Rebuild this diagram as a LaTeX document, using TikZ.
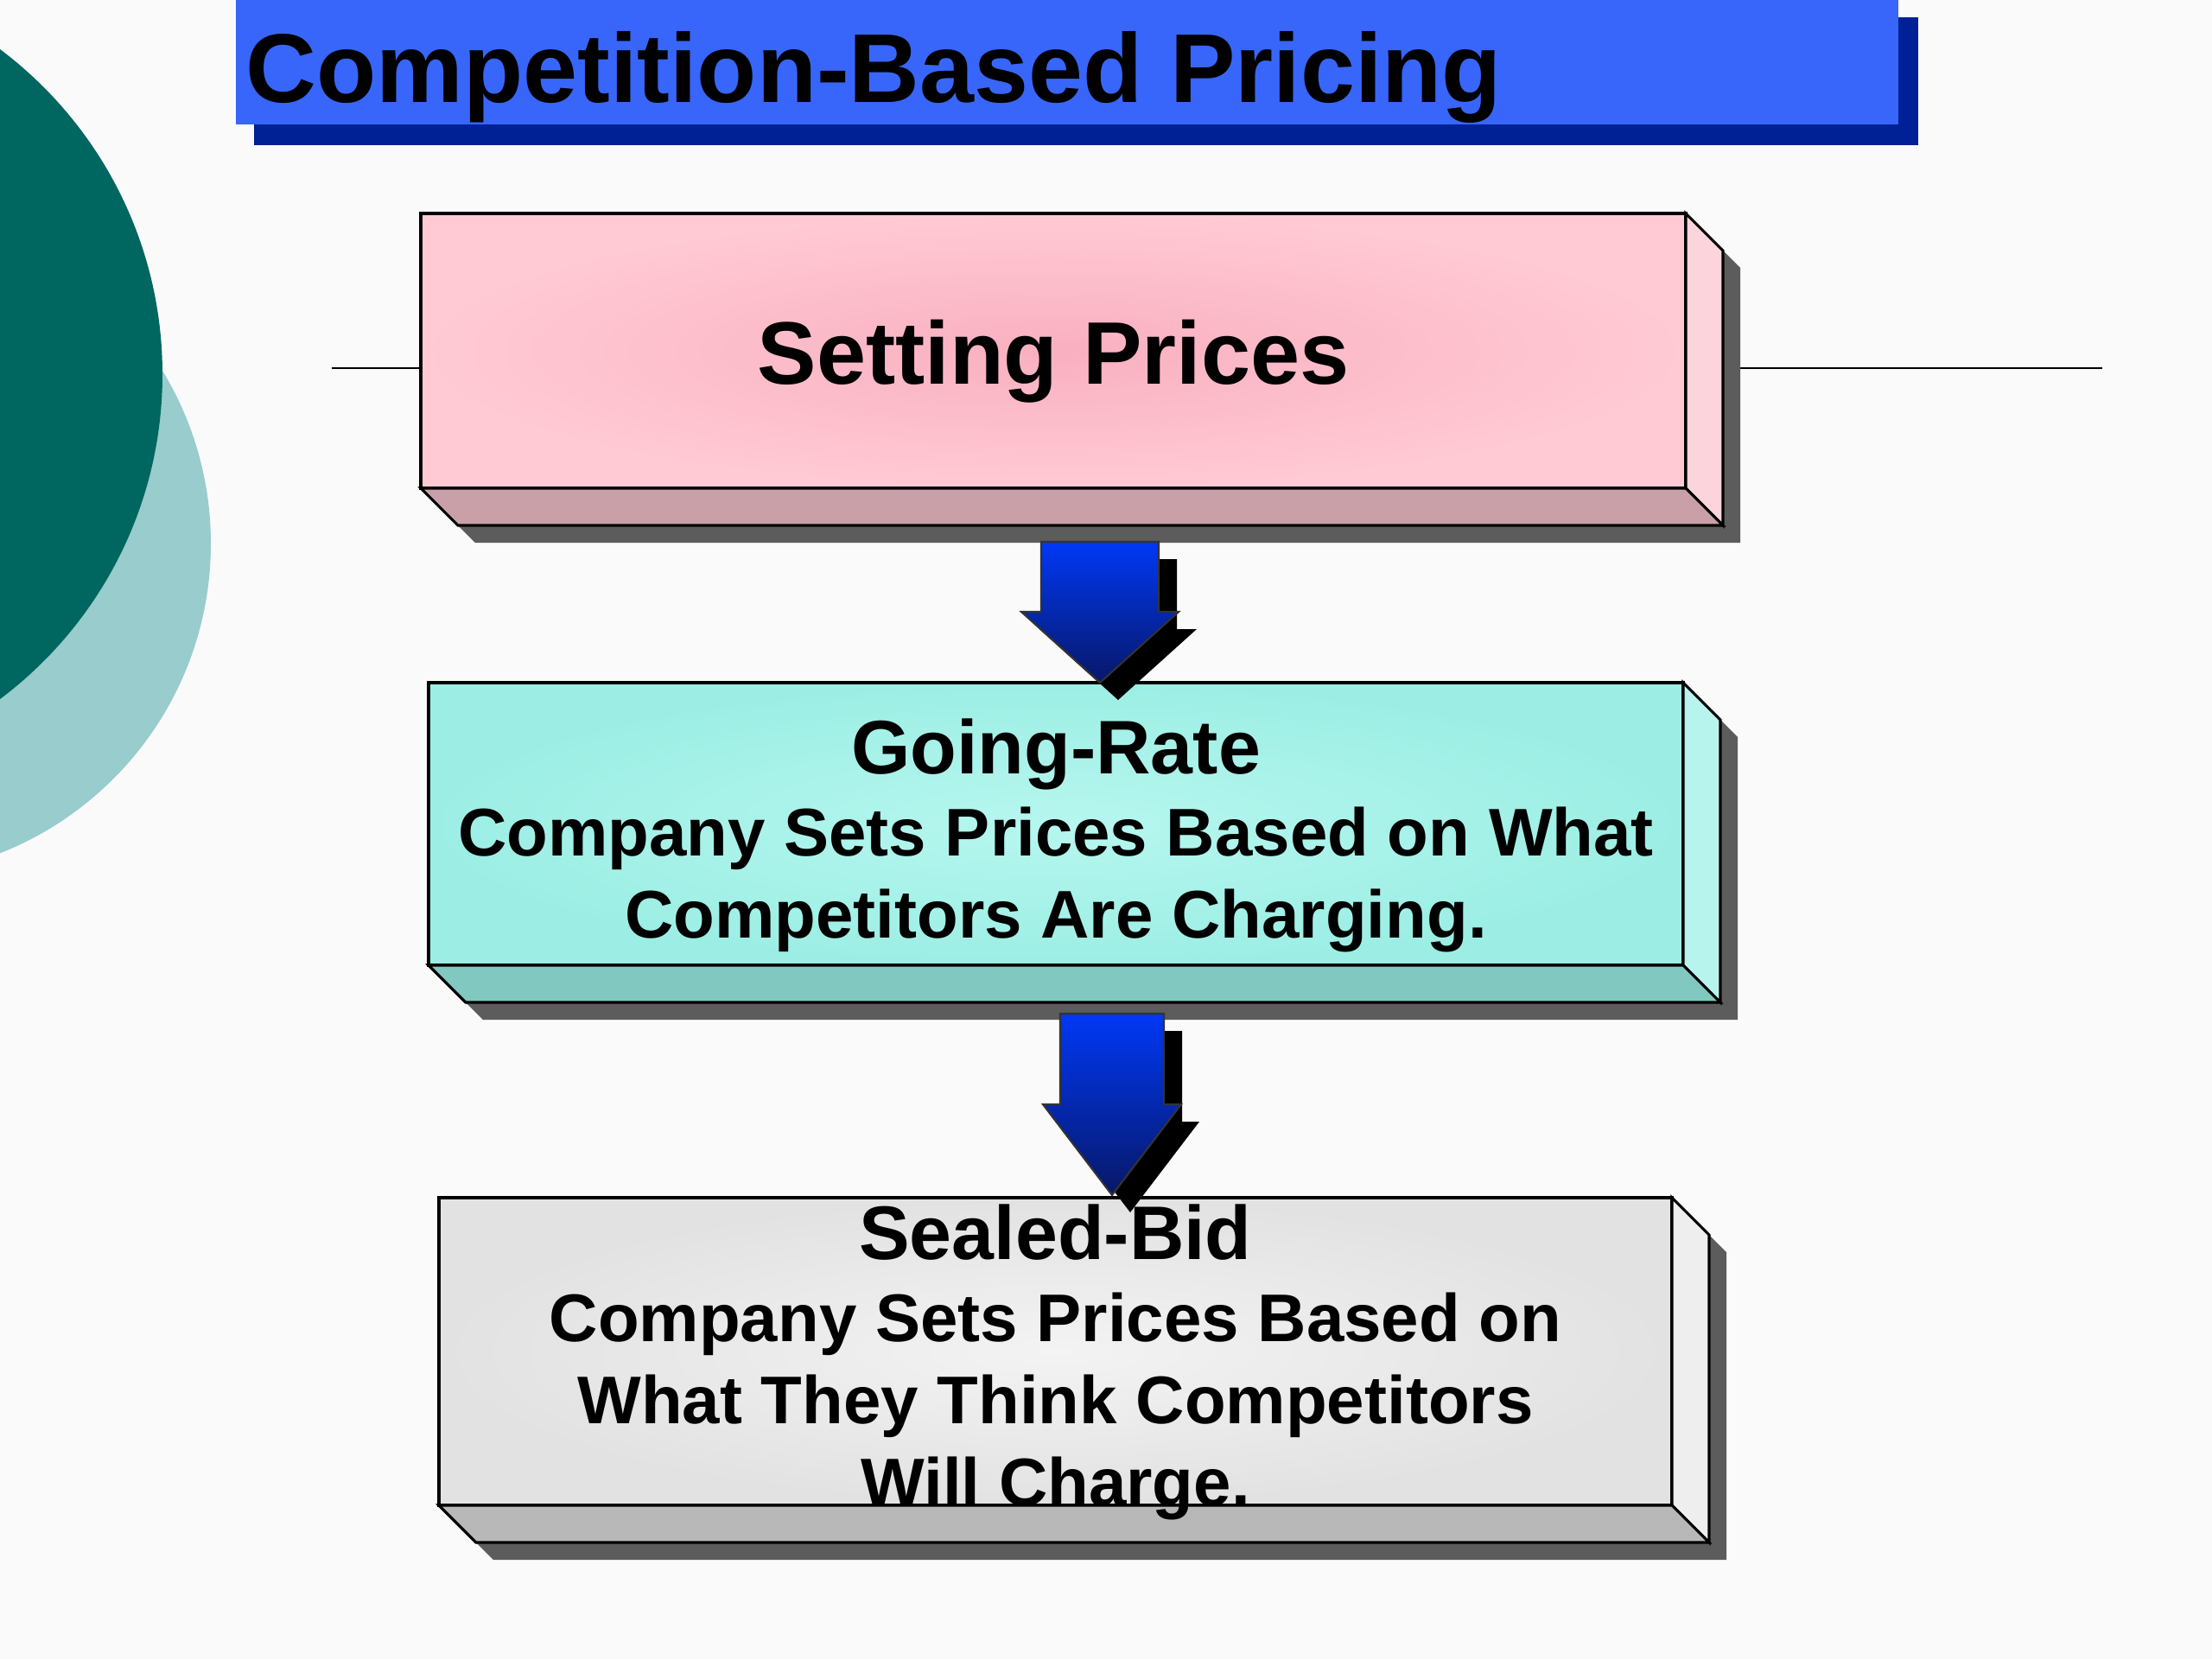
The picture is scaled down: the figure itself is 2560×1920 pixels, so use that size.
\documentclass[tikz,border=0pt]{standalone}
\usepackage{fontspec}
\setmainfont{Liberation Sans}
\usetikzlibrary{positioning, calc}

\definecolor{pagebg}{RGB}{250,250,250}
\definecolor{titleblue}{RGB}{56,102,250}
\definecolor{titleshade}{RGB}{0,32,150}
\definecolor{tealdark}{RGB}{0,102,96}
\definecolor{teallight}{RGB}{153,204,204}
\definecolor{pkinner}{RGB}{249,176,192}
\definecolor{pkouter}{RGB}{255,202,212}
\definecolor{pkside}{RGB}{252,212,220}
\definecolor{pkbase}{RGB}{202,160,168}
\definecolor{cyinner}{RGB}{182,247,239}
\definecolor{cyouter}{RGB}{156,238,228}
\definecolor{cyside}{RGB}{184,244,238}
\definecolor{cybase}{RGB}{128,200,192}
\definecolor{gyinner}{RGB}{243,243,243}
\definecolor{gyouter}{RGB}{226,226,226}
\definecolor{gyside}{RGB}{238,238,238}
\definecolor{gybase}{RGB}{184,184,184}
\definecolor{slabshade}{RGB}{92,92,92}
\definecolor{arrowtop}{RGB}{0,56,245}
\definecolor{arrowbot}{RGB}{8,24,104}

\tikzset{
  slabface/.style={draw=black, line width=0.9pt, shade, inner sep=0pt, outer sep=0pt},
  slabedge/.style={draw=black, line width=0.9pt, line join=miter},
  headtxt/.style={font=\fontsize{29.2}{34}\selectfont\bfseries, inner sep=0pt, anchor=base},
  bodytxt/.style={font=\fontsize{22.2}{27}\selectfont\bfseries, align=center, inner sep=0pt},
  guide/.style={draw=black, line width=0.8pt}
}

% 3D slab: name, x1, y1, x2, y2, colour prefix
\newcommand{\slab}[6]{%
  \fill[slabshade] ({#2+20},{#3+20}) -- ({#4+20},{#3+20}) -- ({#4+63},{#3+63}) -- ({#4+63},{#5+63}) -- ({#2+63},{#5+63}) -- ({#2+20},{#5+20}) -- cycle;
  \node[slabface, inner color=#6inner, outer color=#6outer, minimum width={(#4-#2)*0.01cm}, minimum height={(#5-#3)*0.01cm}] (#1) at ({(#2+#4)/2},{(#3+#5)/2}) {};
  \filldraw[slabedge, fill=#6side] (#1.north east) -- ++(43,43) -- ({#4+43},{#5+43}) -- (#1.south east) -- cycle;
  \filldraw[slabedge, fill=#6base] (#1.south west) -- (#1.south east) -- ++(43,43) -- ({#2+43},{#5+43}) -- cycle;
}

% block arrow: cx, top, tip, shaft half width, head half width, head length
\newcommand{\blockarrow}[6]{%
  \fill[black, shift={(21,20)}] ({#1-#4},#2) -- ({#1+#4},#2) -- ({#1+#4},{#3-#6}) -- ({#1+#5},{#3-#6}) -- (#1,#3) -- ({#1-#5},{#3-#6}) -- ({#1-#4},{#3-#6}) -- cycle;
  \shadedraw[top color=arrowtop, bottom color=arrowbot, draw=black!80, line width=0.6pt] ({#1-#4},#2) -- ({#1+#4},#2) -- ({#1+#4},{#3-#6}) -- ({#1+#5},{#3-#6}) -- (#1,#3) -- ({#1-#5},{#3-#6}) -- ({#1-#4},{#3-#6}) -- cycle;
}

\newcommand{\slabhead}[1]{{\fontsize{25}{27}\selectfont #1}}

\begin{document}
\begin{tikzpicture}[x=0.01cm, y=-0.01cm]
  \useasboundingbox (0,0) rectangle (2560,1920);
  \fill[pagebg] (0,0) rectangle (2560,1920);

  % circles on the left
  \begin{scope}
    \clip (0,0) rectangle (2560,1920);
    \fill[teallight] (-141,629) circle (385);
    \fill[tealdark] (-282,433) circle (470);
  \end{scope}

  % title bar
  \fill[titleshade] (294,20) rectangle (2220,168);
  \node[fill=titleblue, inner sep=0pt, outer sep=0pt, minimum width=19.23cm, minimum height=1.44cm, anchor=north west] (titlebar) at (273,0) {};
  \node[font=\fontsize{32.2}{38}\selectfont\bfseries, inner sep=0pt, anchor=base west] (titletext) at (284,118) {Competition-Based Pricing};

  % thin line behind the top slab
  \coordinate (lineL) at (384,426);
  \coordinate (lineR) at (2433,426);
  \coordinate (lineRin) at (2013,426);
  \draw[guide] (lineL) -- (lineL -| 487,0);
  \draw[guide] (lineRin) -- (lineR);

  % slabs
  \slab{setting}{487}{247}{1951}{565}{pk}
  \slab{going}{496}{790}{1948}{1117}{cy}
  \slab{sealed}{508}{1386}{1935}{1742}{gy}

  % arrows
  \blockarrow{1273}{627}{790}{68}{91}{82}
  \blockarrow{1287}{1173}{1383}{60}{80}{105}

  % texts
  \node[headtxt] (settingtxt) at ($(setting.center)+(0,38)$) {Setting Prices};
  \node[bodytxt] (goingtxt) at ($(going.center)+(0,13)$) {\slabhead{Going-Rate}\\Company Sets Prices Based on What\\Competitors Are Charging.};
  \node[bodytxt] (sealedtxt) at ($(sealed.center)+(0,12)$) {\slabhead{Sealed-Bid}\\Company Sets Prices Based on\\What They Think Competitors\\Will Charge.};
\end{tikzpicture}
\end{document}
